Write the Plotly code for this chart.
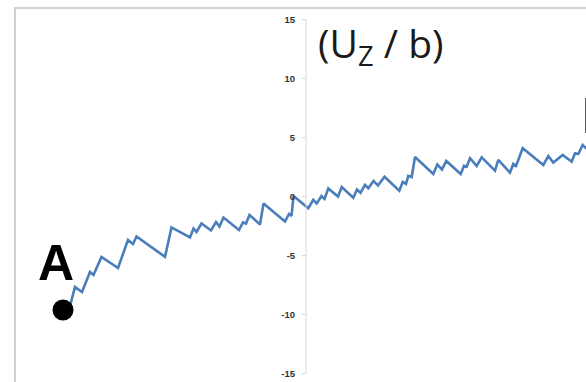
import plotly.graph_objects as go

# Random-walk-like path of (U_Z / b)
x_vals = [-23.6, -23.1, -22.4, -21.6, -21.25, -20.45, -18.8, -17.8, -17.3, -16.95,
          -14.1, -13.45, -11.6, -11.25, -10.95, -10.45, -9.5, -9.0, -8.65, -8.25,
          -6.7, -6.3, -6.0, -5.65, -4.6, -4.25, -2.1, -1.7, -1.45, -1.25,
          0.23, 0.73, 1.07, 1.55, 1.85, 2.23, 3.2, 3.57, 4.73, 5.1,
          5.45, 5.9, 6.23, 6.75, 7.2, 7.85, 9.33, 9.67, 10.0, 10.23,
          10.57, 10.9, 12.73, 13.13, 13.6, 14.03, 15.47, 15.8, 16.07, 16.4,
          17.07, 17.57, 18.9, 19.23, 20.4, 20.73, 21.0, 21.67, 23.73, 24.23,
          24.73, 25.67, 26.57, 26.9, 27.23, 27.67, 28.0, 28.6]
y_vals = [-9.24, -7.63, -8.05, -6.36, -6.61, -5.08, -6.02, -3.64, -3.98, -3.35,
          -5.08, -2.58, -3.43, -2.67, -2.97, -2.25, -2.84, -2.12, -2.50, -1.74,
          -2.80, -2.16, -2.25, -1.53, -2.33, -0.55, -2.08, -1.44, -1.61, 0.08,
          -0.96, -0.25, -0.55, 0.08, -0.17, 0.72, 0.03, 0.85, -0.07, 0.64,
          0.34, 1.02, 0.74, 1.36, 0.97, 1.71, 0.53, 1.27, 1.10, 1.78,
          1.69, 3.39, 1.95, 2.75, 2.33, 3.05, 1.95, 2.63, 2.57, 3.28,
          2.63, 3.36, 2.23, 3.14, 2.06, 2.80, 2.63, 4.13, 2.71, 3.47,
          2.91, 3.56, 2.99, 3.70, 3.64, 4.41, 4.13, 4.30]

# start point A
a_x = [-24.3]
a_y = [-9.58]

tick_vals = [-15, -10, -5, 0, 5, 10, 15]
tick_text = ["-15", "-10", "-5", "0", "5", "10", "15"]

W, H = 586, 382

fig = go.Figure()
fig.add_trace(go.Scatter(x=x_vals, y=y_vals, mode="lines",
                         line=dict(color="#4A7EBB", width=2.6),
                         hoverinfo="skip", showlegend=False))
fig.add_trace(go.Scatter(x=a_x, y=a_y, mode="markers",
                         marker=dict(color="black", size=21),
                         hoverinfo="skip", showlegend=False))

fig.update_layout(
    width=W, height=H,
    margin=dict(l=0, r=0, t=0, b=0),
    paper_bgcolor="white", plot_bgcolor="white",
    xaxis=dict(range=[-30.6, 28.0], visible=False, domain=[0, 1]),
    yaxis=dict(range=[-15.68, 16.69], anchor="free", position=306 / W,
               showgrid=False, zeroline=False, showline=False,
               ticks="outside", ticklen=4, tickcolor="#d9d9d9", tickwidth=1,
               tickvals=tick_vals,
               ticktext=["<b>" + t + "</b>" for t in tick_text],
               tickfont=dict(family="Liberation Sans", size=9.5, color="#333333"),
               ticklabelstandoff=5),
    shapes=[
        dict(type="line", xref="x", yref="y", x0=0, x1=0, y0=-15, y1=15,
             line=dict(color="#d9d9d9", width=1)),
        dict(type="rect", xref="paper", yref="paper",
             x0=15 / W, x1=1.1, y0=-0.1, y1=1 - 8 / H,
             line=dict(color="#d0d0d0", width=2)),
    ],
    annotations=[
        dict(text="(U<sub>Z</sub> / b)", xref="paper", yref="paper",
             x=316 / W, y=1 - 14 / H, xanchor="left", yanchor="top",
             showarrow=False,
             font=dict(family="Open Sans", size=39, color="#1a1a1a")),
        dict(text="<b>A</b>", xref="paper", yref="paper",
             x=56 / W, y=1 - 263 / H, xanchor="center", yanchor="middle",
             showarrow=False,
             font=dict(family="Liberation Sans", size=50, color="black")),
        dict(text="<b>B</b>", xref="paper", yref="paper",
             x=580 / W, y=1 - 116 / H, xanchor="left", yanchor="middle",
             showarrow=False,
             font=dict(family="Liberation Sans", size=50, color="black")),
    ],
)

fig.write_html("out.html")
